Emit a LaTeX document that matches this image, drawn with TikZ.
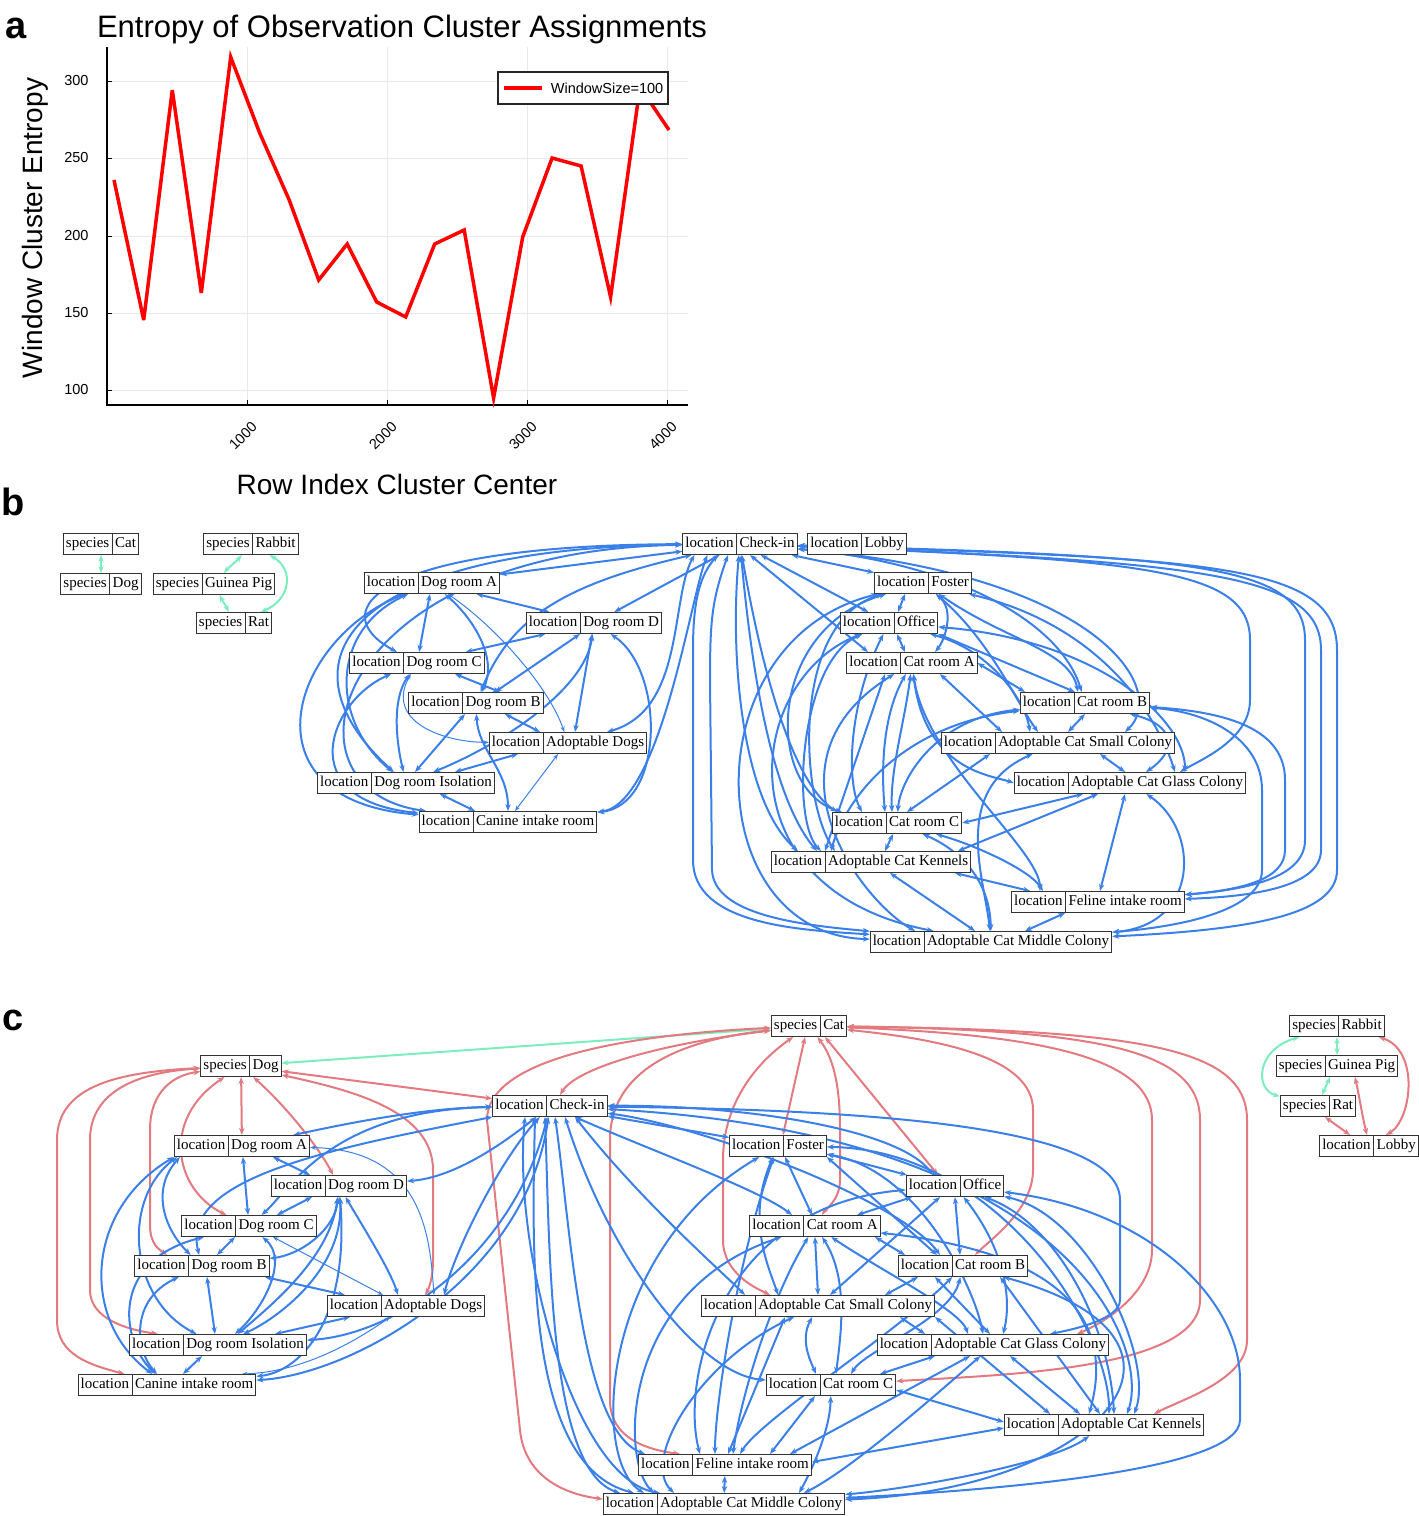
\documentclass[tikz,border=0pt]{standalone}
\usepackage{fontspec}
\setmainfont{Liberation Serif}
\newfontfamily\plotfont{Liberation Sans}
\usetikzlibrary{shapes.multipart,arrows.meta}
\pgfdeclarelayer{edges}
\pgfsetlayers{edges,main}
\definecolor{eblue}{RGB}{58,128,232}
\definecolor{ered}{RGB}{226,122,128}
\definecolor{egreen}{RGB}{124,238,190}
\definecolor{gridc}{RGB}{233,233,233}
\newcommand\recf{\fontsize{15pt}{15pt}\selectfont}
\newcommand\pf[1]{\plotfont\fontsize{#1pt}{#1pt}\selectfont}
\newcommand\rs{\rule[-3.5pt]{0pt}{14pt}}
\newcommand\recnode[4]{\node[rec] (#1) at (#2) {\rs #3\nodepart{two}\rs #4};}
\tikzset{
  rec/.style={rectangle split, rectangle split horizontal, rectangle split parts=2,
    draw=black!80, line width=1pt, fill=white, font=\recf,
    inner xsep=2.5pt, inner ysep=3.5pt},
  tipS/.tip={Stealth[length=7pt,width=5.4pt]},
  tipT/.tip={Stealth[length=5.5pt,width=4.2pt]},
  eb/.style={draw=eblue, line width=2pt, tipS-tipS},
  ebt/.style={draw=eblue, line width=1pt, tipT-tipT},
  er/.style={eb, draw=ered},
  eg/.style={eb, draw=egreen},
  lbl/.style={font=\pf{38}\bfseries},
  tickl/.style={font=\pf{14.5}},
}
\begin{document}
\begin{tikzpicture}[x=1pt,y=-1pt]
\useasboundingbox (0,0) rectangle (1419,1516);

% ---------------- panel a ----------------
\node[lbl] (la) at (16,28) {a};
\node[font=\pf{31}] (ttl) at (402,29) {Entropy of Observation Cluster Assignments};
\foreach \yy in {81,158,236,313,390} \draw[gridc, line width=0.9pt] (107,\yy) -- (688,\yy);
\foreach \xx in {247,387,527,667} \draw[gridc, line width=0.9pt] (\xx,47) -- (\xx,405);
\draw[black, line width=1.3pt] (107,47) -- (107,405) -- (688,405);
\foreach \yy in {81,158,236,313,390} \draw[black, line width=0.9pt] (107,\yy) -- (112,\yy);
\foreach \xx in {247,387,527,667} \draw[black, line width=0.9pt] (\xx,405) -- (\xx,400);
\node[tickl, anchor=east] (y300) at (92,81) {300};
\node[tickl, anchor=east] (y250) at (92,158) {250};
\node[tickl, anchor=east] (y200) at (92,236) {200};
\node[tickl, anchor=east] (y150) at (92,313) {150};
\node[tickl, anchor=east] (y100) at (92,390) {100};
\node[tickl, rotate=45] (x1000) at (243,436) {1000};
\node[tickl, rotate=45] (x2000) at (383,436) {2000};
\node[tickl, rotate=45] (x3000) at (523,436) {3000};
\node[tickl, rotate=45] (x4000) at (663,436) {4000};
\draw[red, line width=3.5pt, line join=miter, miter limit=6] plot coordinates {
 (114,180) (143.7,320) (172.3,90) (201.3,293) (230.7,57) (259.7,133) (289.2,200)
 (318.7,280) (347.2,244) (376.7,302) (405.7,317) (434.7,244) (464.2,230) (493.6,398)
 (522.7,237) (552.1,158) (581.1,166) (610.6,297) (640,87) (669,130)};
\node[draw=black!85, line width=1.3pt, fill=white, minimum width=170pt, minimum height=32pt, inner sep=0pt] (leg) at (583,88) {};
\draw[red, line width=3.5pt] ([xshift=7pt]leg.west) -- ++(38,0);
\node[tickl, anchor=west] (legt) at ([xshift=50pt]leg.west) {WindowSize=100};
\node[font=\pf{28}, rotate=90] (yl) at (35,228) {Window Cluster Entropy};
\node[font=\pf{28}] (xl) at (397,484) {Row Index Cluster Center};

% ---------------- panel b nodes ----------------
\node[lbl] (lb) at (13,502) {b};
\recnode{bspc}{101,544}{species}{Cat}
\recnode{bspd}{101,584}{species}{Dog}
\recnode{bspr}{251,544}{species}{Rabbit}
\recnode{bspg}{214,584}{species}{Guinea Pig}
\recnode{bspt}{234,623}{species}{Rat}
\recnode{bci}{740,544}{location}{Check-in}
\recnode{blo}{857,544}{location}{Lobby}
\recnode{bda}{432,583}{location}{Dog room A}
\recnode{bdd}{594,623}{location}{Dog room D}
\recnode{bdc}{417,663}{location}{Dog room C}
\recnode{bdb}{476,703}{location}{Dog room B}
\recnode{bad}{568,743}{location}{Adoptable Dogs}
\recnode{bdi}{406,783}{location}{Dog room Isolation}
\recnode{bcr}{508,822}{location}{Canine intake room}
\recnode{bfo}{923,583}{location}{Foster}
\recnode{bof}{889,623}{location}{Office}
\recnode{bca}{912,663}{location}{Cat room A}
\recnode{bcb}{1085,703}{location}{Cat room B}
\recnode{bsc}{1058,743}{location}{Adoptable Cat Small Colony}
\recnode{bgc}{1130,783}{location}{Adoptable Cat Glass Colony}
\recnode{bcc}{897,823}{location}{Cat room C}
\recnode{bke}{871,862}{location}{Adoptable Cat Kennels}
\recnode{bfi}{1098,902}{location}{Feline intake room}
\recnode{bmc}{991,942}{location}{Adoptable Cat Middle Colony}

% ---------------- panel c nodes ----------------
\node[lbl] (lc) at (13,1020) {c};
\recnode{cct}{809,1026}{species}{Cat}
\recnode{cdg}{241,1066}{species}{Dog}
\recnode{crb}{1337,1026}{species}{Rabbit}
\recnode{cgp}{1337,1066}{species}{Guinea Pig}
\recnode{crt}{1318,1106}{species}{Rat}
\recnode{clb}{1369,1146}{location}{Lobby}
\recnode{cci}{550,1106}{location}{Check-in}
\recnode{cda}{242,1146}{location}{Dog room A}
\recnode{cdd}{339,1186}{location}{Dog room D}
\recnode{cdc}{249,1226}{location}{Dog room C}
\recnode{cdb}{202,1266}{location}{Dog room B}
\recnode{cad}{406,1306}{location}{Adoptable Dogs}
\recnode{cdi}{218,1345}{location}{Dog room Isolation}
\recnode{ccr}{167,1385}{location}{Canine intake room}
\recnode{cfo}{778,1146}{location}{Foster}
\recnode{cof}{955,1186}{location}{Office}
\recnode{cca}{815,1226}{location}{Cat room A}
\recnode{ccb}{963,1266}{location}{Cat room B}
\recnode{csc}{818,1306}{location}{Adoptable Cat Small Colony}
\recnode{cgc}{993,1345}{location}{Adoptable Cat Glass Colony}
\recnode{ccc}{831,1385}{location}{Cat room C}
\recnode{cke}{1104,1425}{location}{Adoptable Cat Kennels}
\recnode{cfi}{725,1465}{location}{Feline intake room}
\recnode{cmc}{724,1504}{location}{Adoptable Cat Middle Colony}

\begin{pgfonlayer}{edges}
% ---------- panel b: species ----------
\draw[eg] (bspc) -- (bspd);
\draw[eg] (bspr) .. controls (236,562) and (230,566) .. (bspg);
\draw[eg] (bspg) .. controls (222,600) and (226,606) .. (bspt);
\draw[eg] (bspr) .. controls (295,570) and (290,600) .. (bspt);
% ---------- panel b: dogs ----------
\draw[eb] (bci) -- (bda);
\draw[eb] (bci) .. controls (380,545) and (320,610) .. (bdc);
\draw[eb] (bci) .. controls (350,548) and (270,660) .. (bdi);
\draw[eb] (bci) .. controls (330,550) and (270,790) .. (bcr);
\draw[eb] (bda) .. controls (290,640) and (240,800) .. (bcr);
\draw[eb] (bci) .. controls (560,585) and (510,620) .. (bdb);
\draw[eb] (bci) -- (bdd);
\draw[eb] ([xshift=12pt]bci.south west) .. controls (670,600) and (685,710) .. (bad);
\draw[eb] ([xshift=25pt]bci.south west) .. controls (690,600) and (660,805) .. (bcr);
\draw[eb] (bda) -- (bdc);
\draw[eb] (bda) -- (bdd);
\draw[eb] (bda) .. controls (475,620) and (498,660) .. (bdb);
\draw[ebt] (bda) .. controls (500,630) and (550,690) .. (bad);
\draw[eb] (bda) .. controls (330,630) and (330,720) .. (bdi);
\draw[eb] (bdc) -- (bdd);
\draw[eb] ([xshift=38pt]bdc.south) -- ([xshift=24pt]bdb.north);
\draw[eb] (bdc) .. controls (392,700) and (396,740) .. (bdi);
\draw[ebt] (bdc) .. controls (385,720) and (440,742) .. (bad);
\draw[eb] (bdc) .. controls (330,700) and (290,800) .. (bcr);
\draw[eb] ([xshift=-14pt]bdd.south) -- ([xshift=19pt]bdb.north);
\draw[eb] (bdd) .. controls (585,690) and (500,745) .. (bdi);
\draw[eb] ([xshift=-2pt]bdd.south) -- ([xshift=7pt]bad.north);
\draw[eb] (bdd) .. controls (665,670) and (665,805) .. (bcr);
\draw[eb] ([xshift=-11pt]bdb.south) -- ([xshift=9pt]bdi.north);
\draw[eb] ([xshift=29pt]bdb.south) -- ([xshift=-28pt]bad.north);
\draw[eb] (bdb) .. controls (478,750) and (508,770) .. (bcr);
\draw[eb] ([xshift=-50pt]bad.south) -- ([xshift=49pt]bdi.north);
\draw[ebt] ([xshift=-10pt]bad.south) -- ([xshift=7pt]bcr.north);
\draw[eb] ([xshift=34pt]bdi.south) -- ([xshift=-33pt]bcr.north);
% ---------- panel b: cats ----------
\draw[eb] (bci) -- (bfo);
\draw[eb] (bci) -- (bof);
\draw[eb] ([xshift=10pt]bci.south) -- ([xshift=-44pt]bca.north);
\draw[eb] (bci) .. controls (760,660) and (790,780) .. ([xshift=-60pt]bcc.north);
\draw[eb] (bci) .. controls (730,650) and (740,800) .. ([xshift=-73pt]bke.north);
\draw[eb] (bci) .. controls (748,630) and (765,790) .. ([xshift=-54pt]bke.north);
\draw[eb] ([xshift=-22pt]bci.south) .. controls (700,575) and (693,600) .. (693,650) -- (693,860) .. controls (693,925) and (800,930) .. (bmc);
\draw[eb] ([xshift=-12pt]bci.south) .. controls (712,600) and (710,620) .. (710,680) -- (712,870) .. controls (714,915) and (800,925) .. (bmc);
\draw[eb] (bci) .. controls (950,562) and (1060,620) .. (bcb);
\draw[eb] (bci) .. controls (1150,560) and (1250,570) .. (1250,640) -- (1250,700) .. controls (1250,740) and (1200,760) .. ([xshift=50pt]bgc.north);
\draw[eb] (bci) .. controls (1200,556) and (1305,565) .. (1305,640) -- (1305,840) .. controls (1305,880) and (1240,890) .. (bfi);
\draw[eb] (bci) .. controls (1220,558) and (1337,565) .. (1337,650) -- (1337,870) .. controls (1337,915) and (1250,930) .. (bmc);
\draw[eb] (bci) .. controls (1100,575) and (1170,690) .. ([xshift=67pt]bsc.north);
\draw[eb] (bci) .. controls (1210,562) and (1321,575) .. (1321,650) -- (1321,850) .. controls (1321,890) and (1240,897) .. (bfi);
\draw[eb] (bcb) .. controls (1230,712) and (1285,730) .. (1285,780) -- (1285,850) .. controls (1285,880) and (1240,890) .. (bfi);
\draw[eb] (bcb) .. controls (1210,712) and (1262,740) .. (1262,790) -- (1262,870) .. controls (1262,905) and (1200,925) .. (bmc);
\draw[eb] (bgc) .. controls (1200,830) and (1200,925) .. (bmc);
\draw[eb] ([xshift=-5pt]bgc.south) -- ([xshift=2pt]bfi.north);
\draw[eb] ([xshift=-33pt]bfi.south) -- ([xshift=34pt]bmc.north);
\draw[eb] ([xshift=84pt]bke.south) -- ([xshift=-68pt]bfi.north);
\draw[eb] ([xshift=19pt]bke.south) -- ([xshift=-16pt]bmc.north);
\draw[eb] ([xshift=14pt]bke.north) -- ([xshift=-4pt]bcc.south);
\draw[eb] (bcc) .. controls (975,845) and (1030,870) .. ([xshift=-55pt]bfi.north);
\draw[eb] (bcc) .. controls (960,850) and (990,880) .. (bmc);
\draw[eb] (bcc.east) -- ([xshift=-47pt]bgc.south);
\draw[eb] ([xshift=87pt]bke.north) -- ([xshift=-32pt]bgc.south);
\draw[eb] (bcb) .. controls (900,725) and (845,800) .. ([xshift=-40pt]bke.north);
\draw[eb] (bcb) .. controls (935,718) and (900,780) .. (bcc);
\draw[eb] ([xshift=-68pt]bsc.south) -- ([xshift=10pt]bcc.north);
\draw[eb] (bsc) .. controls (950,790) and (985,880) .. (bmc);
\draw[eb] ([xshift=42pt]bsc.south) -- ([xshift=-5pt]bgc.north);
\draw[eb] (bcb.south) -- ([xshift=10pt]bsc.north);
\draw[eb] (bcb) .. controls (1175,725) and (1178,750) .. (bgc);
\draw[eb] (bca.east) -- ([xshift=-60pt]bcb.north);
\draw[eb] ([xshift=28pt]bca.south) -- ([xshift=-56pt]bsc.north);
\draw[eb] (bca) .. controls (880,720) and (882,780) .. ([xshift=-12pt]bcc.north);
\draw[eb] (bca) .. controls (905,720) and (890,770) .. ([xshift=-5pt]bcc.north);
\draw[eb] ([xshift=-27pt]bca.south) -- ([xshift=-46pt]bke.north);
\draw[eb] (bca) .. controls (925,760) and (1040,850) .. ([xshift=-58pt]bfi.north);
\draw[eb] (bca) .. controls (755,760) and (860,900) .. ([xshift=-76pt]bmc.north);
\draw[eb] (bca) .. controls (925,770) and (990,775) .. (bgc.west);
\draw[eb] ([xshift=8pt]bof.south) -- ([xshift=-7pt]bca.north);
\draw[eb] (bof) .. controls (990,650) and (1025,700) .. ([xshift=-28pt]bsc.north);
\draw[eb] (bof) .. controls (1100,640) and (1185,720) .. ([xshift=55pt]bgc.north);
\draw[eb] (bof.south east) -- ([xshift=-10pt]bcb.north);
\draw[eb] (bof) .. controls (800,660) and (790,820) .. ([xshift=-50pt]bke.north);
\draw[eb] (bof) .. controls (745,680) and (720,890) .. (bmc);
\draw[eb] (bof) .. controls (850,700) and (845,780) .. ([xshift=-35pt]bcc.north);
\draw[eb] ([xshift=-18pt]bfo.south) -- ([xshift=9pt]bof.north);
\draw[eb] (bfo) .. controls (955,610) and (945,640) .. ([xshift=23pt]bca.north);
\draw[eb] (bfo) .. controls (1005,640) and (1070,650) .. ([xshift=-7pt]bcb.north);
\draw[eb] (bfo) .. controls (990,640) and (1015,700) .. ([xshift=-20pt]bsc.north);
\draw[eb] (bfo) .. controls (790,620) and (800,800) .. ([xshift=-36pt]bke.north);
\draw[eb] (bfo) .. controls (690,640) and (700,935) .. (bmc);
\draw[eb] (bfo) .. controls (765,630) and (765,790) .. ([xshift=-55pt]bcc.north);
\draw[eb] (bfo) .. controls (1120,630) and (1165,740) .. ([xshift=45pt]bgc.north);

% ---------- panel c: species ----------
\draw[eg] (cct) -- (cdg);
\draw[eg] (crb) -- (cgp);
\draw[eg] (crb) .. controls (1255,1050) and (1255,1090) .. (crt);
\draw[eg] ([xshift=-7pt]cgp.south) -- ([xshift=4pt]crt.north);
\draw[er] ([xshift=7pt]crt.south) -- ([xshift=-19pt]clb.north);
\draw[er] ([xshift=18pt]cgp.south) .. controls (1360,1100) and (1362,1115) .. ([xshift=-2pt]clb.north);
\draw[er] ([xshift=-6pt]crb.south east) .. controls (1420,1050) and (1412,1120) .. ([xshift=17pt]clb.north);
% ---------- panel c: red (species to locations) ----------
\draw[er] (cdg) -- (cda);
\draw[er] (cdg) .. controls (290,1110) and (320,1150) .. (cdd);
\draw[er] (cdg) .. controls (160,1120) and (175,1190) .. (cdc);
\draw[er] (cdg) .. controls (175,1075) and (150,1090) .. (150,1130) -- (150,1225) .. controls (150,1245) and (160,1250) .. ([xshift=-35pt]cdb.north);
\draw[er] (cdg) .. controls (140,1072) and (90,1090) .. (90,1140) -- (90,1290) .. controls (90,1320) and (130,1330) .. ([xshift=-60pt]cdi.north);
\draw[er] (cdg) .. controls (120,1072) and (57,1085) .. (57,1140) -- (57,1320) .. controls (57,1355) and (90,1365) .. (ccr);
\draw[er] (cdg) -- (cci);
\draw[er] (cdg) .. controls (350,1090) and (433,1110) .. (433,1170) -- (433,1260) .. controls (433,1280) and (428,1290) .. ([xshift=19pt]cad.north);
\draw[er] (cct) .. controls (650,1045) and (575,1070) .. ([xshift=10pt]cci.north);
\draw[er] (cct) .. controls (620,1035) and (487,1060) .. (487,1120) -- (520,1430) .. controls (525,1480) and (570,1495) .. ([yshift=5pt]cmc.west);
\draw[er] (cct) .. controls (680,1040) and (610,1070) .. (610,1140) -- (610,1400) .. controls (610,1440) and (650,1450) .. ([xshift=-45pt]cfi.north);
\draw[er] (cct) .. controls (760,1060) and (723,1100) .. (723,1160) -- (723,1240) .. controls (723,1275) and (760,1290) .. ([xshift=-48pt]csc.north);
\draw[er] ([xshift=-4pt]cct.south) -- ([xshift=5pt]cfo.north);
\draw[er] (cct) .. controls (835,1060) and (840,1090) .. (840,1130) -- (840,1180) .. controls (840,1200) and (825,1210) .. ([xshift=7pt]cca.north);
\draw[er] ([xshift=16pt]cct.south) -- ([xshift=-17pt]cof.north);
\draw[er] (cct) .. controls (950,1040) and (1033,1060) .. (1033,1110) -- (1033,1170) .. controls (1033,1210) and (990,1240) .. ([xshift=12pt]ccb.north);
\draw[er] (cct) .. controls (1050,1035) and (1152,1060) .. (1152,1120) -- (1152,1250) .. controls (1152,1290) and (1110,1320) .. ([xshift=84pt]cgc.north);
\draw[er] (cct) .. controls (1100,1030) and (1200,1050) .. (1200,1120) -- (1200,1300) .. controls (1200,1370) and (1000,1375) .. (ccc);
\draw[er] (cct) .. controls (1150,1030) and (1247,1050) .. (1247,1120) -- (1247,1340) .. controls (1247,1380) and (1180,1400) .. ([xshift=50pt]cke.north);
% ---------- panel c: dogs ----------
\draw[eb] (cci) .. controls (420,1108) and (340,1125) .. (cda);
\draw[eb] (cci) .. controls (330,1110) and (290,1190) .. (cdc);
\draw[eb] (cci) .. controls (320,1150) and (180,1180) .. (cdb);
\draw[eb] (cci) .. controls (495,1150) and (450,1178) .. (cdd);
\draw[eb] (cci) .. controls (515,1250) and (400,1335) .. (cdi);
\draw[eb] (cci) .. controls (525,1280) and (350,1375) .. (ccr);
\draw[eb] (cci) .. controls (500,1160) and (455,1250) .. ([xshift=38pt]cad.north);
\draw[eb] (cda) -- (cdc);
\draw[eb] ([xshift=31pt]cda.south) -- ([xshift=-29pt]cdd.north);
\draw[eb] ([xshift=-62pt]cda.south) .. controls (150,1190) and (165,1230) .. (cdb);
\draw[eb] ([xshift=-65pt]cda.south) .. controls (120,1200) and (130,1300) .. (cdi);
\draw[eb] ([xshift=-68pt]cda.south) .. controls (85,1210) and (80,1320) .. (ccr);
\draw[ebt] (cda) .. controls (425,1150) and (430,1240) .. ([xshift=28pt]cad.north);
\draw[eb] ([xshift=-27pt]cdd.south) -- ([xshift=28pt]cdc.north);
\draw[eb] (cdd) .. controls (335,1230) and (300,1255) .. (cdb);
\draw[eb] (cdd) .. controls (330,1260) and (265,1310) .. ([xshift=20pt]cdi.north);
\draw[eb] (cdd) .. controls (345,1270) and (275,1320) .. ([xshift=25pt]cdi.north);
\draw[eb] (cdd) .. controls (350,1320) and (300,1372) .. (ccr);
\draw[eb] (cdd) .. controls (365,1230) and (390,1270) .. ([xshift=-8pt]cad.north);
\draw[eb] ([xshift=-14pt]cdc.south) -- ([xshift=15pt]cdb.north);
\draw[eb] (cdc) .. controls (290,1260) and (262,1310) .. ([xshift=17pt]cdi.north);
\draw[ebt] ([xshift=24pt]cdc.south) -- ([xshift=-23pt]cad.north);
\draw[eb] (cdc) .. controls (110,1260) and (120,1340) .. (ccr);
\draw[eb] ([xshift=5pt]cdb.south) -- ([xshift=-3pt]cdi.north);
\draw[eb] ([xshift=63pt]cdb.south) -- ([xshift=-61pt]cad.north);
\draw[eb] (cdb) .. controls (130,1300) and (135,1350) .. (ccr);
\draw[eb] ([xshift=-56pt]cad.south) -- ([xshift=57pt]cdi.north);
\draw[ebt] (cad) .. controls (350,1345) and (300,1372) .. ([xshift=75pt]ccr.north);
\draw[eb] ([xshift=-16pt]cdi.south) -- ([xshift=16pt]ccr.north);
% ---------- panel c: cats ----------
\draw[eb] (cci) -- (cfo);
\draw[eb] (cci) .. controls (750,1105) and (900,1130) .. ([xshift=-22pt]cof.north);
\draw[eb] (cci) .. controls (650,1150) and (760,1190) .. ([xshift=-23pt]cca.north);
\draw[eb] (cci) .. controls (700,1125) and (900,1200) .. ([xshift=-23pt]ccb.north);
\draw[eb] (cci) .. controls (900,1110) and (1120,1130) .. (1120,1200) -- (1120,1300) .. controls (1120,1320) and (1070,1330) .. ([xshift=57pt]cgc.north);
\draw[eb] (cci) .. controls (1080,1135) and (1150,1350) .. ([xshift=23pt]cke.north);
\draw[eb] ([xshift=25pt]cci.south) .. controls (640,1200) and (720,1270) .. ([xshift=-73pt]csc.north);
\draw[eb] ([xshift=15pt]cci.south) .. controls (610,1260) and (700,1375) .. (ccc);
\draw[eb] ([xshift=5pt]cci.south) .. controls (570,1220) and (580,1430) .. ([xshift=-80pt]cfi.north);
\draw[eb] ([xshift=-5pt]cci.south) .. controls (550,1250) and (548,1470) .. ([xshift=-104pt]cmc.north);
\draw[eb] ([xshift=-15pt]cci.south) .. controls (532,1250) and (525,1465) .. ([xshift=-90pt]cmc.north);
\draw[eb] ([xshift=-25pt]cci.south) .. controls (512,1250) and (575,1480) .. ([xshift=-64pt]cmc.north);
\draw[eb] ([yshift=-8pt]cfo.east) -- ([xshift=-48pt]cof.north);
\draw[eb] ([xshift=7pt]cfo.south) -- ([xshift=-3pt]cca.north);
\draw[eb] (cfo.south east) -- ([xshift=-26pt]ccb.north);
\draw[eb] (cfo) .. controls (745,1220) and (770,1270) .. ([xshift=-40pt]csc.north);
\draw[eb] (cfo) .. controls (920,1170) and (975,1290) .. ([xshift=-10pt]cgc.north);
\draw[eb] (cfo) .. controls (1000,1150) and (1110,1330) .. ([xshift=5pt]cke.north);
\draw[eb] (cfo) .. controls (740,1250) and (715,1400) .. ([xshift=-10pt]cfi.north);
\draw[eb] (cfo) .. controls (600,1250) and (590,1460) .. ([xshift=-80pt]cmc.north);
\draw[eb] ([xshift=-43pt]cof.south) -- ([xshift=42pt]cca.north);
\draw[eb] (cof.south) -- ([xshift=-3pt]ccb.north);
\draw[eb] ([xshift=-15pt]cof.south) -- ([xshift=12pt]csc.north);
\draw[eb] (cof) .. controls (1005,1250) and (1012,1300) .. ([xshift=10pt]cgc.north);
\draw[eb] (cof) .. controls (1060,1225) and (1110,1330) .. ([xshift=10pt]cke.north);
\draw[eb] (cof) .. controls (1090,1215) and (1155,1360) .. ([xshift=30pt]cke.north);
\draw[eb] (cof) .. controls (720,1205) and (680,1380) .. ([xshift=-25pt]cfi.north);
\draw[eb] (cof) .. controls (1150,1210) and (1240,1300) .. (1240,1380) -- (1240,1420) .. controls (1240,1470) and (1000,1490) .. (cmc);
\draw[eb] ([xshift=60pt]cca.south) -- ([xshift=-58pt]ccb.north);
\draw[eb] (cca.south) -- (csc.north);
\draw[eb] (cca) .. controls (850,1280) and (840,1340) .. ([xshift=5pt]ccc.north);
\draw[eb] (cca) .. controls (880,1270) and (960,1310) .. ([xshift=-25pt]cgc.north);
\draw[eb] (cca) .. controls (1090,1255) and (1110,1340) .. ([xshift=-15pt]cke.north);
\draw[eb] (cca) .. controls (770,1300) and (740,1400) .. ([xshift=8pt]cfi.north);
\draw[eb] (cca) .. controls (620,1290) and (620,1460) .. ([xshift=-70pt]cmc.north);
\draw[eb] ([xshift=-45pt]ccb.south) -- ([xshift=67pt]csc.north);
\draw[eb] ([xshift=-28pt]ccb.south) -- ([xshift=-3pt]cgc.north);
\draw[eb] (ccb) .. controls (950,1320) and (865,1350) .. ([xshift=20pt]ccc.north);
\draw[eb] ([xshift=37pt]ccb.south) -- ([xshift=-4pt]cke.north);
\draw[eb] (ccb) .. controls (900,1330) and (760,1420) .. ([xshift=15pt]cfi.north);
\draw[eb] (ccb) .. controls (1235,1340) and (1100,1490) .. (cmc);
\draw[eb] ([xshift=82pt]csc.south) -- ([xshift=-68pt]cgc.north);
\draw[eb] (csc) .. controls (800,1340) and (810,1360) .. ([xshift=-15pt]ccc.north);
\draw[eb] (csc.south east) -- ([xshift=-54pt]cke.north);
\draw[eb] ([xshift=-33pt]csc.south) -- ([xshift=3pt]cfi.north);
\draw[eb] (csc) .. controls (700,1360) and (640,1460) .. ([xshift=-50pt]cmc.north);
\draw[eb] ([xshift=-58pt]cgc.south) -- ([xshift=49pt]ccc.north);
\draw[eb] ([xshift=17pt]cgc.south) -- ([xshift=-24pt]cke.north);
\draw[eb] ([xshift=-23pt]cgc.south) -- ([xshift=65pt]cfi.north);
\draw[eb] (cgc) .. controls (930,1400) and (850,1470) .. ([xshift=80pt]cmc.north);
\draw[eb] ([yshift=-5pt]ccc.east) -- ([yshift=3pt]cke.west);
\draw[eb] ([xshift=-16pt]ccc.south) -- ([xshift=45pt]cfi.north);
\draw[eb] (ccc) .. controls (830,1430) and (812,1470) .. ([xshift=75pt]cmc.north);
\draw[eb] ([yshift=-3pt]cke.west) -- ([yshift=3pt]cfi.east);
\draw[eb] (cke) .. controls (1050,1465) and (900,1490) .. (cmc);
\draw[eb] (cfi) -- (cmc);
\end{pgfonlayer}
\end{tikzpicture}
\end{document}
